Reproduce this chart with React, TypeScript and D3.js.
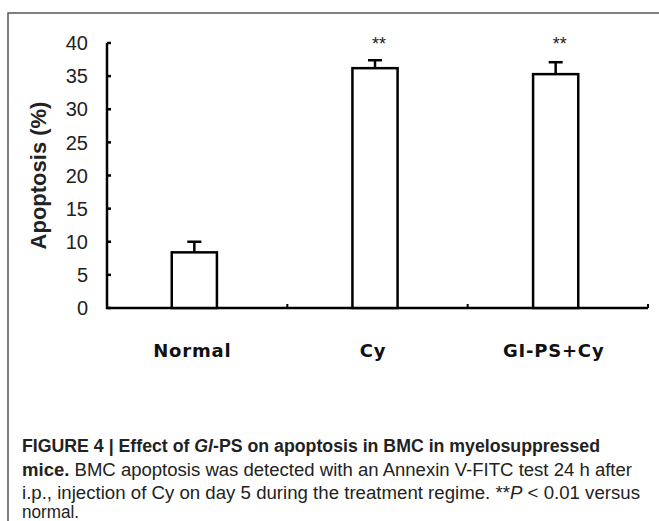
import * as d3 from 'd3';
import React from 'react';

// chart values
const categories = ['Normal', 'Cy', 'GI-PS+Cy'];
const apoptosis = [8.4, 36.2, 35.3];
const errorTop = [10.0, 37.4, 37.1];
const significance = ['', '**', '**'];
const yTicks = [0, 5, 10, 15, 20, 25, 30, 35, 40];

const W = 659;
const H = 521;

const App = () => {
  const axisLeft = 107;
  const axisRight = 648;
  const x = d3.scaleBand().domain(categories).range([104, 646]).paddingInner(0.75).paddingOuter(0.375);
  const band = d3.scaleBand().domain(categories).range([axisLeft, axisRight]);
  const y = d3.scaleLinear().domain([0, 40]).range([308, 43]);
  const cap = 7;

  return (
    <svg width={W} height={H} style={{ position: 'absolute', left: 0, top: 0 }}>
      <rect x={0} y={0} width={W} height={H} fill="#fff" />
      {/* figure frame */}
      <path d={`M8,${H + 5}V13H${W + 5}`} fill="none" stroke="#555" strokeWidth={1.5} />

      {/* axes */}
      <path d={`M${axisLeft},${y(40)}V${y(0)}H${axisRight}`} fill="none" stroke="#000" strokeWidth={2.5} />
      {yTicks.map((t) => (
        <g key={t}>
          <line x1={axisLeft} x2={axisLeft + 4} y1={y(t)} y2={y(t)} stroke="#000" strokeWidth={2.5} />
          <text x={88} y={y(t)} dy="0.36em" textAnchor="end" fontFamily="Liberation Sans, Arial" fontSize={20} fill="#222">
            {t}
          </text>
        </g>
      ))}
      {categories.slice(1).map((c) => (
        <line key={c} x1={band(c)!} x2={band(c)!} y1={y(0)} y2={y(0) - 4} stroke="#000" strokeWidth={2} />
      ))}
      <line x1={axisRight} x2={axisRight} y1={y(0)} y2={y(0) - 4} stroke="#000" strokeWidth={2} />

      <text
        transform={`translate(38,${(y(0) + y(40)) / 2}) rotate(-90)`}
        textAnchor="middle"
        dy="0.36em"
        fontFamily="Liberation Sans, Arial"
        fontWeight="bold"
        fontSize={22}
        fill="#222"
      >
        Apoptosis (%)
      </text>

      {/* bars with error bars */}
      {categories.map((c, i) => {
        const cx = x(c)! + x.bandwidth() / 2;
        return (
          <g key={c}>
            <line x1={cx} x2={cx} y1={y(apoptosis[i])} y2={y(errorTop[i])} stroke="#000" strokeWidth={2.5} />
            <line x1={cx - cap} x2={cx + cap} y1={y(errorTop[i])} y2={y(errorTop[i])} stroke="#000" strokeWidth={2.5} />
            <rect
              x={x(c)}
              y={y(apoptosis[i])}
              width={x.bandwidth()}
              height={y(0) - y(apoptosis[i])}
              fill="#fff"
              stroke="#000"
              strokeWidth={2.5}
            />
            <text x={cx + 4} y={44} dy="0.36em" textAnchor="middle" fontFamily="Liberation Sans, Arial" fontSize={18} fill="#222">
              {significance[i]}
            </text>
            <text
              x={cx - 2}
              y={357}
              textAnchor="middle"
              fontFamily="DejaVu Sans"
              fontWeight="bold"
              fontSize={18}
              letterSpacing={0.8}
              fill="#111"
            >
              {c}
            </text>
          </g>
        );
      })}

      {/* caption */}
      <g fontFamily="Liberation Sans Narrow, Liberation Sans, Arial" fontSize={17.5} fill="#222">
        <text x={22} y={452} textLength={578} lengthAdjust="spacingAndGlyphs" fontWeight="bold">
          FIGURE 4 | Effect of <tspan fontStyle="italic">Gl</tspan>-PS on apoptosis in BMC in myelosuppressed
        </text>
        <text x={22} y={475.5} textLength={610} lengthAdjust="spacingAndGlyphs">
          <tspan fontWeight="bold">mice.</tspan> BMC apoptosis was detected with an Annexin V-FITC test 24 h after
        </text>
        <text x={22} y={499} textLength={618} lengthAdjust="spacingAndGlyphs">
          i.p., injection of Cy on day 5 during the treatment regime. **<tspan fontStyle="italic">P</tspan> &lt; 0.01 versus
        </text>
        <text x={22} y={518} textLength={57} lengthAdjust="spacingAndGlyphs">
          normal.
        </text>
      </g>
    </svg>
  );
};

export default App;
